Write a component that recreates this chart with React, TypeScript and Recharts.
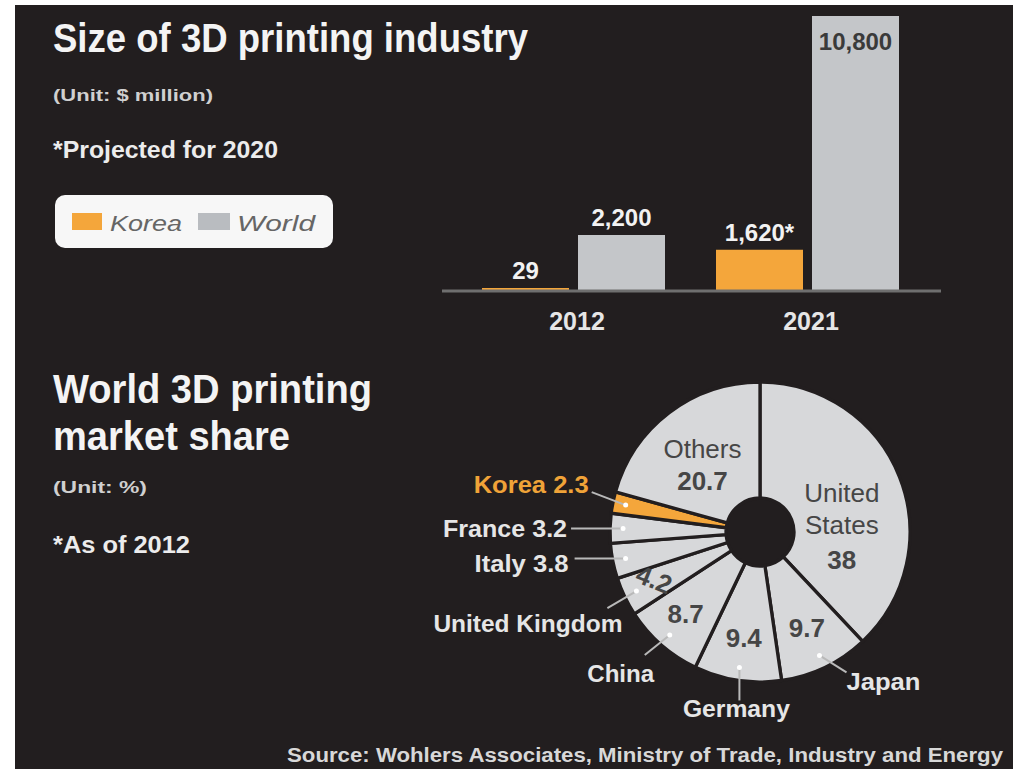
import React from 'react';
import { BarChart, Bar, XAxis, YAxis, LabelList, PieChart, Pie, Cell } from 'recharts';

// size of the industry, $ million
const years = ['2012', '2021'];
const koreaSize = [29, 1620];
const worldSize = [2200, 10800];
const koreaProjected = [false, true];

// market share, %
const shareCountries = ['United States', 'Japan', 'Germany', 'China', 'United Kingdom', 'Italy', 'France', 'Korea', 'Others'];
const shareValues = [38, 9.7, 9.4, 8.7, 4.2, 3.8, 3.2, 2.3, 20.7];

const seriesNames = ['Korea', 'World'];

const BG = '#221e1f';
const ORANGE = '#f4a63b';
const BAR_GREY = '#c4c6c9';
const PIE_GREY = '#d7d8da';
const FONT = "'Liberation Sans', Arial, sans-serif";

const barData = years.map((year, i) => ({ year, korea: koreaSize[i], world: worldSize[i] }));
const pieData = shareCountries.map((name, i) => ({ name, value: shareValues[i] }));

// labels drawn inside the ring
const insideLabels: Record<string, { r: number; showName?: boolean; dys: number[]; rotate?: number }> = {
  'United States': { r: 88, showName: true, dys: [2, 34, 69] },
  Others: { r: 95, showName: true, dys: [2, 34] },
  Japan: { r: 108, dys: [8] },
  Germany: { r: 108, dys: [8] },
  China: { r: 113, dys: [6] },
  'United Kingdom': { r: 119, dys: [5], rotate: 22 },
};

// labels outside, with a leader line from a dot on the slice
const outsideLabels: Record<string, { lead: [number, number]; text: [number, number]; anchor: string; w: number; withValue?: boolean; color?: string }> = {
  Japan: { lead: [27, 17], text: [27, 35], anchor: 'start', w: 74 },
  Germany: { lead: [0, 33], text: [-3, 50], anchor: 'middle', w: 107 },
  China: { lead: [-25, 20], text: [-49, 47], anchor: 'middle', w: 67 },
  'United Kingdom': { lead: [-29, 17], text: [-14, 41], anchor: 'end', w: 189 },
  Italy: { lead: [-51, 0], text: [-57, 13], anchor: 'end', w: 94, withValue: true },
  France: { lead: [-52, 0], text: [-56, 8], anchor: 'end', w: 124, withValue: true },
  Korea: { lead: [-34, -13], text: [-37, -12], anchor: 'end', w: 115, withValue: true, color: '#f0a338' },
};

const RAD = Math.PI / 180;
const polar = (cx: number, cy: number, r: number, angle: number) => ({
  x: cx + r * Math.cos(-angle * RAD),
  y: cy + r * Math.sin(-angle * RAD),
});

const renderSliceLabel = (props: any) => {
  const { cx, cy, midAngle, index } = props;
  const name = shareCountries[index];
  const value = shareValues[index];
  const inner = insideLabels[name];
  const outer = outsideLabels[name];
  const parts: React.ReactNode[] = [];
  if (inner) {
    const p = polar(cx, cy, inner.r, midAngle);
    const lines = inner.showName ? [...name.split(' '), String(value)] : [String(value)];
    parts.push(
      <text key="in" textAnchor="middle" fill="#464646" fontFamily={FONT} fontSize={26}
        transform={inner.rotate ? `rotate(${inner.rotate} ${p.x} ${p.y})` : undefined}>
        {lines.map((l, i) => (
          <tspan key={i} x={p.x} y={p.y + inner.dys[i]} fontWeight={i === lines.length - 1 ? 'bold' : 'normal'}>{l}</tspan>
        ))}
      </text>
    );
  }
  if (outer) {
    const d = polar(cx, cy, 137, midAngle);
    const txt = outer.withValue ? `${name} ${value}` : name;
    parts.push(
      <g key="out">
        <line x1={d.x} y1={d.y} x2={d.x + outer.lead[0]} y2={d.y + outer.lead[1]} stroke="#b9b9b9" strokeWidth={2} />
        <circle cx={d.x} cy={d.y} r={2.5} fill="#fff" />
        <text x={d.x + outer.text[0]} y={d.y + outer.text[1]} textAnchor={outer.anchor as any} fill={outer.color || '#e6e6e6'}
          fontFamily={FONT} fontWeight="bold" fontSize={24} textLength={outer.w} lengthAdjust="spacingAndGlyphs">{txt}</text>
      </g>
    );
  }
  return <g>{parts}</g>;
};

const renderBarLabel = (series: 'korea' | 'world') => (props: any) => {
  const { x, y, width, height, value, index } = props;
  const star = series === 'korea' && koreaProjected[index] ? '*' : '';
  const text = Number(value).toLocaleString('en-US') + star;
  const inside = height > 200;
  return (
    <text x={x + width / 2} y={inside ? y + 34 : y - 9} textAnchor="middle" fontFamily={FONT} fontWeight="bold"
      fontSize={24} fill={inside ? '#3a3a3a' : '#f2f2f2'}>{text}</text>
  );
};

const YearTick = (props: any) => {
  const { x, y, payload } = props;
  return (
    <text x={x + 4} y={y + 31} textAnchor="middle" fontFamily={FONT} fontWeight="bold" fontSize={25} fill="#e6e6e6">
      {payload.value}
    </text>
  );
};

const Txt = ({ x, y, w, size, children, fill = '#f4f4f4', weight = 'bold' }: any) => (
  <text x={x} y={y} fontSize={size} fontWeight={weight} fill={fill} fontFamily={FONT}
    textLength={w} lengthAdjust="spacingAndGlyphs">{children}</text>
);

export default function App() {
  const seriesColors = [ORANGE, '#b9bcc0'];
  return (
    <div style={{ position: 'absolute', left: 0, top: 0, width: 1017, height: 769, background: '#fff', overflow: 'hidden' }}>
      <div style={{ position: 'absolute', left: 15, top: 5, width: 998, height: 764, background: BG }} />

      <svg style={{ position: 'absolute', left: 0, top: 0 }} width={1017} height={769}>
        <Txt x={53} y={52} w={475} size={40}>Size of 3D printing industry</Txt>
        <Txt x={53} y={101} w={160} size={17} fill="#d0d0d0">(Unit: $ million)</Txt>
        <Txt x={53} y={158} w={225} size={24} fill="#ececec">*Projected for 2020</Txt>

        {/* legend */}
        <rect x={55} y={195} width={278} height={53} rx={10} fill="#f7f7f7" />
        {seriesNames.map((s, i) => (
          <g key={s}>
            <rect x={i === 0 ? 72 : 198} y={213} width={i === 0 ? 30 : 32} height={17} fill={seriesColors[i]} />
            <text x={i === 0 ? 110 : 237} y={231} fontSize={22} fontStyle="italic" fill="#666" fontFamily={FONT}
              textLength={i === 0 ? 72 : 78} lengthAdjust="spacingAndGlyphs">{s}</text>
          </g>
        ))}

        <Txt x={53} y={403} w={319} size={40}>World 3D printing</Txt>
        <Txt x={53} y={450} w={237} size={40}>market share</Txt>
        <Txt x={53} y={493} w={94} size={17} fill="#d0d0d0">(Unit: %)</Txt>
        <Txt x={53} y={553} w={137} size={24} fill="#ececec">*As of 2012</Txt>

        <Txt x={287} y={762} w={716} size={20} fill="#d8d8d8">Source: Wohlers Associates, Ministry of Trade, Industry and Energy</Txt>
      </svg>

      <div style={{ position: 'absolute', left: 0, top: 0 }}>
        <BarChart width={1017} height={345} data={barData} margin={{ top: 16, right: 76, bottom: 10, left: 442 }} barGap={9}>
          <XAxis dataKey="year" height={44} padding={{ left: 14, right: 17 }} interval={0}
            axisLine={{ stroke: '#6f6f6f', strokeWidth: 3 }} tickLine={false} tick={(p: any) => <YearTick {...p} />} />
          <YAxis hide domain={[0, 'dataMax']} />
          <Bar dataKey="korea" name="Korea" fill={ORANGE} barSize={87} minPointSize={3} isAnimationActive={false}>
            <LabelList dataKey="korea" content={renderBarLabel('korea')} />
          </Bar>
          <Bar dataKey="world" name="World" fill={BAR_GREY} barSize={87} isAnimationActive={false}>
            <LabelList dataKey="world" content={renderBarLabel('world')} />
          </Bar>
        </BarChart>
      </div>

      <div style={{ position: 'absolute', left: 0, top: 340 }}>
        <PieChart width={1017} height={429} margin={{ top: 0, right: 0, bottom: 0, left: 0 }}>
          <Pie data={pieData} dataKey="value" nameKey="name" cx={760} cy={192} innerRadius={34} outerRadius={150}
            startAngle={90} endAngle={-270} stroke={BG} strokeWidth={3.3} label={renderSliceLabel} labelLine={false}
            isAnimationActive={false}>
            {pieData.map((d, i) => (
              <Cell key={i} fill={d.name === 'Korea' ? ORANGE : PIE_GREY} />
            ))}
          </Pie>
        </PieChart>
      </div>
    </div>
  );
}
